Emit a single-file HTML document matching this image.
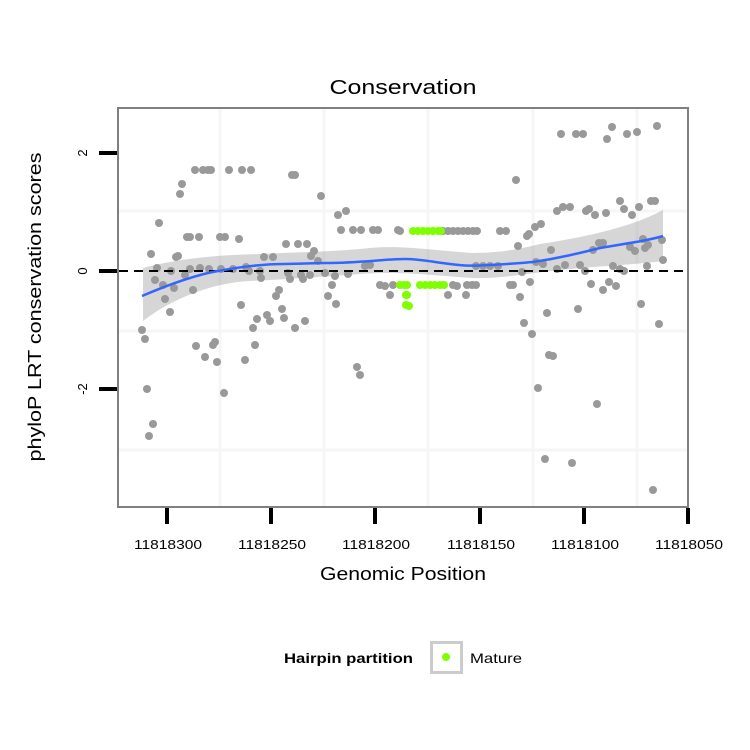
<!DOCTYPE html>
<html><head><meta charset="utf-8"><style>html,body{margin:0;padding:0;background:#fff}svg{display:block}</style></head>
<body>
<svg width="750" height="750" viewBox="0 0 750 750" xmlns="http://www.w3.org/2000/svg" font-family="Liberation Sans, sans-serif">
<rect width="750" height="750" fill="#fff"/>
<g stroke="#f6f6f6" stroke-width="3">
<line x1="220" y1="109" x2="220" y2="506"/><line x1="324" y1="109" x2="324" y2="506"/><line x1="428" y1="109" x2="428" y2="506"/><line x1="533" y1="109" x2="533" y2="506"/><line x1="637" y1="109" x2="637" y2="506"/>
<line x1="119" y1="211" x2="687" y2="211"/><line x1="119" y1="331" x2="687" y2="331"/><line x1="119" y1="450" x2="687" y2="450"/>
</g>
<g fill="#999">
<circle cx="195" cy="170" r="4"/><circle cx="203" cy="170" r="4"/><circle cx="208" cy="170" r="4"/><circle cx="211" cy="170" r="4"/><circle cx="229" cy="170" r="4"/><circle cx="242" cy="170" r="4"/><circle cx="251" cy="170" r="4"/>
<circle cx="292" cy="175" r="4"/><circle cx="295" cy="175" r="4"/><circle cx="182" cy="184" r="4"/><circle cx="180" cy="194" r="4"/><circle cx="321" cy="196" r="4"/><circle cx="338" cy="215" r="4"/><circle cx="346" cy="211" r="4"/><circle cx="159" cy="223" r="4"/>
<circle cx="341" cy="230" r="4"/><circle cx="353" cy="230" r="4"/><circle cx="361" cy="230" r="4"/><circle cx="373" cy="230" r="4"/><circle cx="378" cy="230" r="4"/><circle cx="398" cy="230" r="4"/>
<circle cx="187" cy="237" r="4"/><circle cx="190" cy="237" r="4"/><circle cx="199" cy="237" r="4"/><circle cx="220" cy="237" r="4"/><circle cx="225" cy="237" r="4"/><circle cx="239" cy="239" r="4"/>
<circle cx="286" cy="244" r="4"/><circle cx="298" cy="244" r="4"/><circle cx="307" cy="244" r="4"/><circle cx="151" cy="254" r="4"/><circle cx="176" cy="257" r="4"/><circle cx="178" cy="256" r="4"/><circle cx="264" cy="257" r="4"/><circle cx="273" cy="257" r="4"/>
<circle cx="314" cy="251" r="4"/><circle cx="311" cy="256" r="4"/><circle cx="318" cy="261" r="4"/>
<circle cx="157" cy="268" r="4"/><circle cx="171" cy="271" r="4"/><circle cx="185" cy="275" r="4"/><circle cx="190" cy="269" r="4"/><circle cx="200" cy="268" r="4"/><circle cx="209" cy="269" r="4"/><circle cx="221" cy="269" r="4"/><circle cx="233" cy="269" r="4"/><circle cx="246" cy="267" r="4"/><circle cx="249" cy="271" r="4"/><circle cx="260" cy="271" r="4"/><circle cx="261" cy="278" r="4"/>
<circle cx="155" cy="280" r="4"/><circle cx="163" cy="285" r="4"/><circle cx="174" cy="288" r="4"/><circle cx="193" cy="290" r="4"/><circle cx="165" cy="299" r="4"/><circle cx="170" cy="312" r="4"/>
<circle cx="288" cy="273" r="4"/><circle cx="290" cy="279" r="4"/><circle cx="301" cy="275" r="4"/><circle cx="303" cy="279" r="4"/><circle cx="310" cy="275" r="4"/>
<circle cx="325" cy="273" r="4"/><circle cx="335" cy="276" r="4"/><circle cx="348" cy="274" r="4"/><circle cx="365" cy="266" r="4"/><circle cx="370" cy="265" r="4"/>
<circle cx="332" cy="285" r="4"/><circle cx="328" cy="296" r="4"/><circle cx="336" cy="304" r="4"/>
<circle cx="380" cy="285" r="4"/><circle cx="385" cy="286" r="4"/><circle cx="393" cy="285" r="4"/><circle cx="390" cy="295" r="4"/>
<circle cx="279" cy="290" r="4"/><circle cx="276" cy="296" r="4"/><circle cx="282" cy="309" r="4"/><circle cx="241" cy="305" r="4"/>
<circle cx="257" cy="319" r="4"/><circle cx="267" cy="315" r="4"/><circle cx="270" cy="321" r="4"/><circle cx="284" cy="318" r="4"/><circle cx="295" cy="328" r="4"/><circle cx="305" cy="321" r="4"/>
<circle cx="253" cy="328" r="4"/><circle cx="142" cy="330" r="4"/><circle cx="145" cy="339" r="4"/><circle cx="196" cy="346" r="4"/><circle cx="215" cy="342" r="4"/><circle cx="213" cy="345" r="4"/><circle cx="255" cy="345" r="4"/>
<circle cx="205" cy="357" r="4"/><circle cx="217" cy="362" r="4"/><circle cx="245" cy="360" r="4"/><circle cx="357" cy="367" r="4"/><circle cx="360" cy="375" r="4"/>
<circle cx="147" cy="389" r="4"/><circle cx="224" cy="393" r="4"/><circle cx="153" cy="424" r="4"/><circle cx="149" cy="436" r="4"/>
<circle cx="400" cy="231" r="4"/><circle cx="443" cy="231" r="4"/><circle cx="448" cy="231" r="4"/><circle cx="453" cy="231" r="4"/><circle cx="458" cy="231" r="4"/><circle cx="463" cy="231" r="4"/><circle cx="468" cy="231" r="4"/><circle cx="473" cy="231" r="4"/><circle cx="477" cy="231" r="4"/>
<circle cx="500" cy="231" r="4"/><circle cx="506" cy="231" r="4"/>
<circle cx="453" cy="285" r="4"/><circle cx="457" cy="286" r="4"/><circle cx="467" cy="285" r="4"/><circle cx="472" cy="285" r="4"/><circle cx="476" cy="285" r="4"/><circle cx="510" cy="285" r="4"/><circle cx="513" cy="285" r="4"/>
<circle cx="448" cy="295" r="4"/><circle cx="466" cy="295" r="4"/>
<circle cx="476" cy="266" r="4"/><circle cx="483" cy="266" r="4"/><circle cx="490" cy="266" r="4"/><circle cx="498" cy="266" r="4"/>
<circle cx="516" cy="180" r="4"/><circle cx="561" cy="134" r="4"/><circle cx="576" cy="134" r="4"/><circle cx="583" cy="134" r="4"/><circle cx="612" cy="127" r="4"/><circle cx="607" cy="139" r="4"/><circle cx="627" cy="134" r="4"/><circle cx="637" cy="132" r="4"/><circle cx="657" cy="126" r="4"/>
<circle cx="518" cy="246" r="4"/><circle cx="527" cy="236" r="4"/><circle cx="529" cy="234" r="4"/><circle cx="535" cy="227" r="4"/><circle cx="541" cy="224" r="4"/>
<circle cx="557" cy="211" r="4"/><circle cx="563" cy="207" r="4"/><circle cx="570" cy="207" r="4"/><circle cx="586" cy="211" r="4"/><circle cx="589" cy="209" r="4"/><circle cx="595" cy="215" r="4"/><circle cx="606" cy="213" r="4"/><circle cx="620" cy="201" r="4"/><circle cx="624" cy="209" r="4"/><circle cx="632" cy="215" r="4"/><circle cx="639" cy="207" r="4"/><circle cx="651" cy="201" r="4"/><circle cx="655" cy="201" r="4"/>
<circle cx="551" cy="250" r="4"/><circle cx="536" cy="262" r="4"/><circle cx="543" cy="264" r="4"/><circle cx="557" cy="269" r="4"/><circle cx="565" cy="265" r="4"/><circle cx="580" cy="265" r="4"/><circle cx="585" cy="271" r="4"/>
<circle cx="593" cy="250" r="4"/><circle cx="599" cy="243" r="4"/><circle cx="603" cy="243" r="4"/><circle cx="613" cy="266" r="4"/><circle cx="620" cy="269" r="4"/><circle cx="624" cy="271" r="4"/><circle cx="630" cy="247" r="4"/><circle cx="635" cy="251" r="4"/><circle cx="645" cy="248" r="4"/><circle cx="648" cy="245" r="4"/><circle cx="643" cy="239" r="4"/><circle cx="662" cy="240" r="4"/><circle cx="663" cy="260" r="4"/><circle cx="647" cy="266" r="4"/>
<circle cx="522" cy="272" r="4"/><circle cx="530" cy="282" r="4"/><circle cx="520" cy="297" r="4"/><circle cx="591" cy="284" r="4"/><circle cx="603" cy="290" r="4"/><circle cx="609" cy="282" r="4"/><circle cx="616" cy="286" r="4"/>
<circle cx="547" cy="313" r="4"/><circle cx="578" cy="309" r="4"/><circle cx="641" cy="304" r="4"/><circle cx="659" cy="324" r="4"/><circle cx="524" cy="323" r="4"/><circle cx="532" cy="334" r="4"/>
<circle cx="549" cy="355" r="4"/><circle cx="553" cy="356" r="4"/><circle cx="538" cy="388" r="4"/><circle cx="597" cy="404" r="4"/><circle cx="545" cy="459" r="4"/><circle cx="572" cy="463" r="4"/><circle cx="653" cy="490" r="4"/>
</g>
<g fill="#7fff00">
<circle cx="407" cy="285" r="4"/><circle cx="406" cy="295" r="4"/><circle cx="406" cy="305" r="4"/>
<circle cx="413" cy="231" r="4"/><circle cx="418" cy="231" r="4"/><circle cx="423" cy="231" r="4"/><circle cx="428" cy="231" r="4"/><circle cx="433" cy="231" r="4"/><circle cx="438" cy="231" r="4"/><circle cx="441" cy="231" r="4"/>
<circle cx="400" cy="285" r="4"/><circle cx="404" cy="285" r="4"/><circle cx="420" cy="285" r="4"/><circle cx="425" cy="285" r="4"/><circle cx="430" cy="285" r="4"/><circle cx="435" cy="285" r="4"/><circle cx="440" cy="285" r="4"/><circle cx="444" cy="285" r="4"/>
<circle cx="407" cy="295" r="4"/><circle cx="409" cy="306" r="4"/>
</g>
<path d="M143,268 C180,258 220,255 260,254 C300,252 330,252 370,248 C400,245 430,250 473,253 C500,253 520,249 540,244 C580,238 630,228 663,210 L663,261 C630,265 600,266 560,270 C530,273 500,279 473,278 C430,275 400,271 360,274 C320,277 290,279 250,281 C210,283 170,300 143,321 Z" fill="#999" fill-opacity="0.4"/>
<line x1="119" y1="271" x2="687" y2="271" stroke="#000" stroke-width="2" stroke-dasharray="9,6"/>
<path d="M142,296 C170,284 195,275 218,271 C250,265 270,264 285,264 C300,264 315,263 325,263 C360,263 385,259 405,259 C420,259 433,262 450,264 C465,266 473,266 490,265 C510,264 520,263 533,262 C560,258 580,253 600,248 C630,243 650,240 663,236" fill="none" stroke="#3366ff" stroke-width="2.5"/>
<rect x="118" y="108" width="570" height="399" fill="none" stroke="#808080" stroke-width="2"/>
<g stroke="#000" stroke-width="4">
<line x1="99" y1="153" x2="117" y2="153"/><line x1="99" y1="271" x2="117" y2="271"/><line x1="99" y1="389" x2="117" y2="389"/>
<line x1="167" y1="508" x2="167" y2="524"/><line x1="271" y1="508" x2="271" y2="524"/><line x1="375" y1="508" x2="375" y2="524"/><line x1="480" y1="508" x2="480" y2="524"/><line x1="584" y1="508" x2="584" y2="524"/><line x1="688" y1="508" x2="688" y2="524"/>
</g>
<g font-size="13" fill="#000" text-anchor="middle">
<text x="168" y="549" textLength="68" lengthAdjust="spacingAndGlyphs">11818300</text><text x="272" y="549" textLength="68" lengthAdjust="spacingAndGlyphs">11818250</text><text x="376" y="549" textLength="68" lengthAdjust="spacingAndGlyphs">11818200</text><text x="481" y="549" textLength="68" lengthAdjust="spacingAndGlyphs">11818150</text><text x="585" y="549" textLength="68" lengthAdjust="spacingAndGlyphs">11818100</text><text x="689" y="549" textLength="68" lengthAdjust="spacingAndGlyphs">11818050</text>
<text transform="translate(87,153) rotate(-90)">2</text><text transform="translate(87,271) rotate(-90)">0</text><text transform="translate(87,389) rotate(-90)">-2</text>
</g>
<text x="403" y="94" font-size="20" text-anchor="middle" textLength="147" lengthAdjust="spacingAndGlyphs">Conservation</text>
<text x="403" y="580" font-size="18" text-anchor="middle" textLength="166" lengthAdjust="spacingAndGlyphs">Genomic Position</text>
<text transform="translate(41,307) rotate(-90)" font-size="18" text-anchor="middle" textLength="309" lengthAdjust="spacingAndGlyphs">phyloP LRT conservation scores</text>
<text x="284" y="663" font-size="14" font-weight="bold" textLength="129" lengthAdjust="spacingAndGlyphs">Hairpin partition</text>
<rect x="431.5" y="642.5" width="30" height="30" fill="#fff" stroke="#ccc" stroke-width="3"/>
<circle cx="446" cy="657" r="4" fill="#7fff00"/>
<text x="470" y="663" font-size="14" textLength="52" lengthAdjust="spacingAndGlyphs">Mature</text>
</svg>
</body></html>
